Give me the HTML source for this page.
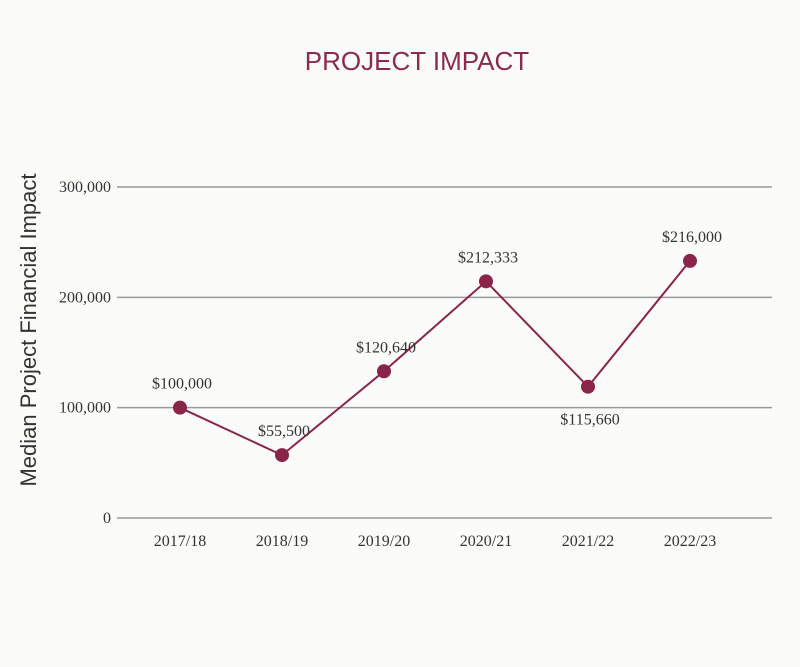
<!DOCTYPE html>
<html><head><meta charset="utf-8"><style>
body{margin:0;background:#fbfbf9;}
svg{display:block;}
</style></head><body>
<svg id="chart" width="800" height="667" xmlns="http://www.w3.org/2000/svg">
<rect width="800" height="667" fill="#fbfbf9"/>
<text x="417" y="70" text-anchor="middle" font-family="Liberation Sans, sans-serif" font-size="26" fill="#8b2a4c">PROJECT IMPACT</text>
<text transform="translate(36,330) rotate(-90)" text-anchor="middle" font-family="Liberation Sans, sans-serif" font-size="22" fill="#333">Median Project Financial Impact</text>
<g id="grid"></g><g id="series"></g>
</svg>
<script>
const categories = ["2017/18","2018/19","2019/20","2020/21","2021/22","2022/23"];
const values = [100000, 57000, 133000, 214500, 119000, 233000];
const valueLabels = ["$100,000","$55,500","$120,640","$212,333","$115,660","$216,000"];
const labelBelow = [false,false,false,false,true,false];
const yTicks = [0, 100000, 200000, 300000];
const yTickLabels = ["0","100,000","200,000","300,000"];

const NS="http://www.w3.org/2000/svg";
const y = v => 518 - v/300000*331;
const x = i => 180 + i*(690-180)/(categories.length-1);
function mk(tag, attrs, parent){const e=document.createElementNS(NS,tag);for(const k in attrs)e.setAttribute(k,attrs[k]);parent.appendChild(e);return e;}
const grid=document.getElementById('grid'), ser=document.getElementById('series');
yTicks.forEach((t,i)=>{
  const l=mk('line',{x1:117,x2:772,y1:y(t),y2:y(t),stroke:'#9a9a9a','stroke-width':1.5},grid);
  
  
  const tx=mk('text',{x:111,y:y(t)+5,'text-anchor':'end','font-family':'Liberation Serif, serif','font-size':16,fill:'#333'},grid);
  tx.textContent=yTickLabels[i];
  
  
});
categories.forEach((c,i)=>{
  const tx=mk('text',{x:x(i),y:546,'text-anchor':'middle','font-family':'Liberation Serif, serif','font-size':16,fill:'#333'},grid);
  tx.textContent=c;
  
  
});
const pl=mk('polyline',{points:values.map((v,i)=>x(i)+','+y(v)).join(' '),fill:'none',stroke:'#8b2449','stroke-width':2},ser);


values.forEach((v,i)=>{
  const c=mk('circle',{cx:x(i),cy:y(v),r:7,fill:'#8b2449'},ser);
  
  
  const t=mk('text',{x:x(i)+2,y:labelBelow[i]?y(v)+38:y(v)-19,'text-anchor':'middle','font-family':'Liberation Serif, serif','font-size':16,fill:'#333'},ser);
  t.textContent=valueLabels[i];
  
  
});
</script>
</body></html>
